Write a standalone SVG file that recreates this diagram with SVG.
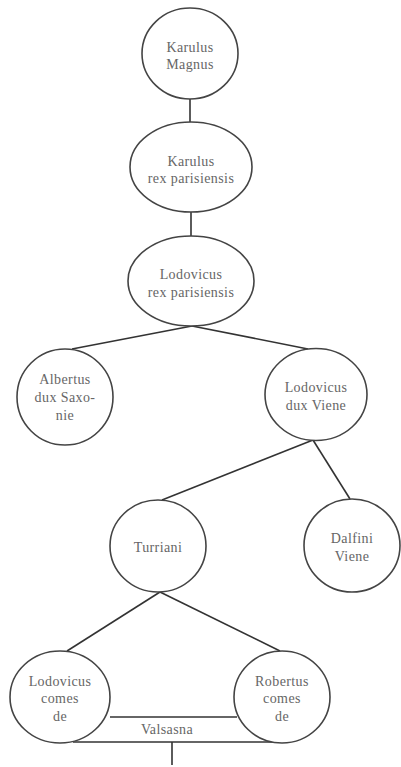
<svg xmlns="http://www.w3.org/2000/svg" width="401" height="767" viewBox="0 0 401 767">
<style>
.n{fill:#fff;stroke:#444;stroke-width:1.6}
.c{stroke:#333;stroke-width:1.6;fill:none}
.t{font-family:'Liberation Serif','Times New Roman',serif;font-size:14px;fill:#666;text-anchor:middle;letter-spacing:0.4px}
</style>
<rect width="401" height="767" fill="#fff"/>
<g id="connectors">
<line class="c" x1="190" y1="99" x2="190" y2="122"/>
<line class="c" x1="191" y1="212" x2="191" y2="236"/>
<line class="c" x1="192" y1="326" x2="72" y2="349"/>
<line class="c" x1="192" y1="326" x2="308" y2="349"/>
<line class="c" x1="313" y1="440" x2="162" y2="500"/>
<line class="c" x1="313" y1="440" x2="350" y2="499"/>
<line class="c" x1="160" y1="592" x2="67" y2="651"/>
<line class="c" x1="160" y1="592" x2="280" y2="651"/>
<line class="c" x1="110" y1="717" x2="237" y2="717"/>
<line class="c" x1="73" y1="742" x2="273" y2="742"/>
<line class="c" x1="172" y1="742" x2="172" y2="765"/>
</g>
<g id="karulus-magnus">
<ellipse class="n" cx="190" cy="53.5" rx="48" ry="45.5"/>
<text class="t" x="190" y="52">Karulus</text>
<text class="t" x="190" y="69">Magnus</text>
</g>
<g id="karulus-rex">
<ellipse class="n" cx="191" cy="167" rx="61" ry="45"/>
<text class="t" x="191" y="166">Karulus</text>
<text class="t" x="191" y="183">rex parisiensis</text>
</g>
<g id="lodovicus-rex">
<ellipse class="n" cx="191" cy="281" rx="63" ry="45"/>
<text class="t" x="191" y="279">Lodovicus</text>
<text class="t" x="191" y="297">rex parisiensis</text>
</g>
<g id="albertus">
<ellipse class="n" cx="65" cy="397" rx="48" ry="48"/>
<text class="t" x="65" y="384">Albertus</text>
<text class="t" x="65" y="402">dux Saxo-</text>
<text class="t" x="65" y="420">nie</text>
</g>
<g id="lodovicus-dux">
<ellipse class="n" cx="316" cy="394.5" rx="51" ry="46"/>
<text class="t" x="316" y="392">Lodovicus</text>
<text class="t" x="316" y="410">dux Viene</text>
</g>
<g id="turriani">
<ellipse class="n" cx="158" cy="546" rx="48" ry="46"/>
<text class="t" x="158" y="552">Turriani</text>
</g>
<g id="dalfini">
<ellipse class="n" cx="352" cy="545.5" rx="48" ry="46.5"/>
<text class="t" x="352" y="543">Dalfini</text>
<text class="t" x="352" y="561">Viene</text>
</g>
<g id="lodovicus-comes">
<ellipse class="n" cx="60" cy="697" rx="50" ry="46"/>
<text class="t" x="60" y="686">Lodovicus</text>
<text class="t" x="60" y="703">comes</text>
<text class="t" x="60" y="721">de</text>
</g>
<g id="robertus">
<ellipse class="n" cx="282" cy="697" rx="48" ry="46"/>
<text class="t" x="282" y="686">Robertus</text>
<text class="t" x="282" y="703">comes</text>
<text class="t" x="282" y="721">de</text>
</g>
<g id="valsasna-label">
<text class="t" x="167" y="734">Valsasna</text>
</g>
</svg>
